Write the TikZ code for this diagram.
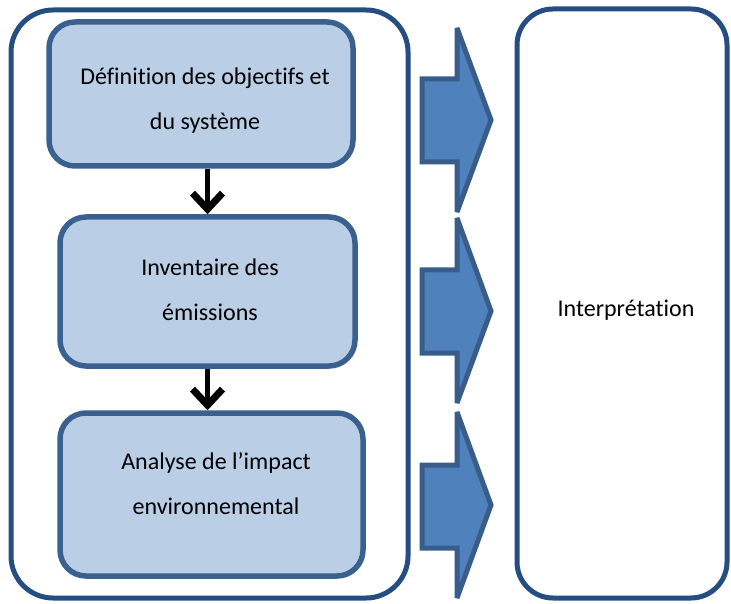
\documentclass[tikz,border=0pt]{standalone}
\usepackage{fontspec}
\setmainfont[Ligatures=NoCommon]{Carlito}
\usetikzlibrary{arrows.meta}
\definecolor{framecol}{HTML}{244D82}
\definecolor{stagefill}{HTML}{BACEE6}
\definecolor{stageline}{HTML}{3A6090}
\definecolor{arrowfill}{HTML}{4F81BD}
\definecolor{arrowline}{HTML}{385D8A}
\begin{document}
\begin{tikzpicture}[x=0.5pt,y=-0.5pt,
    stage/.style={draw=stageline, fill=stagefill, line width=2.75pt, rounded corners=13pt},
    frame/.style={draw=framecol, line width=2.5pt},
    txt/.style={align=center, font={\fontsize{12}{22.5}\selectfont}},
    flow/.style={line width=2.5pt, -{Straight Barb[length=8pt,width=15pt,line width=3.5pt]}},
    block/.style={draw=arrowline, fill=arrowfill, line width=2.5pt, miter limit=3}]
  \useasboundingbox (0,0) rectangle (731,603);
  % outer frame round the three stages
  \node [frame, rounded corners=21pt, minimum width=198.5pt, minimum height=294pt] (lca) at (209.5,304) {};
  \node [frame, rounded corners=18pt, minimum width=105pt, minimum height=294.5pt] (interp) at (622,303.5) {};
  \node [txt] (interpt) at (626,310) {Interprétation};
  % stages
  \node [stage, minimum width=152pt, minimum height=72pt] (def) at (201,94) {};
  \node [stage, minimum width=147.5pt, minimum height=74.5pt] (inv) at (207.5,291.5) {};
  \node [stage, minimum width=151.5pt, minimum height=81.5pt] (ana) at (211.5,494.5) {};
  \node [txt] (deft) at (205,101) {Définition des objectifs et\\du système};
  \node [txt] (invt) at (210,290) {Inventaire des\\émissions};
  \node [txt] (anat) at (216,484) {Analyse de l’impact\\environnemental};
  \draw [flow] (inv.north |- def.south) -- (inv.north);
  \draw [flow] (inv.south) -- (inv.south |- ana.north);
  % block arrows towards the interpretation
  \foreach \ht/\st/\tp/\sb/\hb in {28/79/120/162/212, 218/270/311/353/403, 412/465/505/548/598}
    \draw [block] (422,\st) -- (457,\st) -- (457,\ht) -- (491,\tp) -- (457,\hb) -- (457,\sb) -- (422,\sb) -- cycle;
\end{tikzpicture}
\end{document}
